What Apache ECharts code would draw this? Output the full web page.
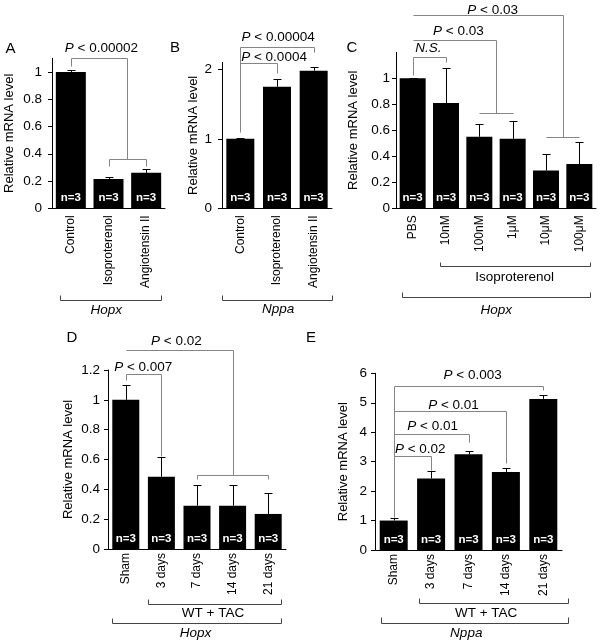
<!DOCTYPE html>
<html><head><meta charset="utf-8">
<script src="https://cdn.jsdelivr.net/npm/echarts@6/dist/echarts.min.js"></script>
<style>html,body{margin:0;padding:0;background:#fff}#c{width:602px;height:644px}</style>
</head><body><div id="c"></div>
<script>
// ---------- Panel A (Hopx) ----------
const catsA = ['Control', 'Isoproterenol', 'Angiotensin II'];
const valA = [1.0, 0.215, 0.26];
const errA = [0.012, 0.018, 0.025];
const nA = [3, 3, 3];
const ticksA = [0, 0.2, 0.4, 0.6, 0.8, 1];
// ---------- Panel B (Nppa) ----------
const catsB = ['Control', 'Isoproterenol', 'Angiotensin II'];
const valB = [1.0, 1.75, 1.98];
const errB = [0.015, 0.11, 0.05];
const nB = [3, 3, 3];
const ticksB = [0, 1, 2];
// ---------- Panel C (Hopx, isoproterenol dose) ----------
const catsC = ['PBS', '10nM', '100nM', '1μM', '10μM', '100μM'];
const valC = [1.0, 0.81, 0.55, 0.535, 0.29, 0.34];
const errC = [0.005, 0.27, 0.10, 0.135, 0.13, 0.17];
const nC = [3, 3, 3, 3, 3, 3];
const ticksC = [0, 0.2, 0.4, 0.6, 0.8, 1];
// ---------- Panel D (Hopx, TAC) ----------
const catsD = ['Sham', '3 days', '7 days', '14 days', '21 days'];
const valD = [1.0, 0.485, 0.29, 0.29, 0.235];
const errD = [0.10, 0.13, 0.14, 0.14, 0.14];
const nD = [3, 3, 3, 3, 3];
const ticksD = [0, 0.2, 0.4, 0.6, 0.8, 1, 1.2];
// ---------- Panel E (Nppa, TAC) ----------
const catsE = ['Sham', '3 days', '7 days', '14 days', '21 days'];
const valE = [1.0, 2.43, 3.25, 2.65, 5.13];
const errE = [0.10, 0.24, 0.10, 0.12, 0.12];
const nE = [3, 3, 3, 3, 3];
const ticksE = [0, 1, 2, 3, 4, 5, 6];

// significance brackets: [xStart, xEnd, yLine, yLeftEnd, yRightEnd] (category units, data units)
const bracketsA = [[0, 1.5, 1.10, 1.045, 0.363], [1, 2, 0.363, 0.31, 0.31]];
const pLabelsA = [[0.81, 1.175, 'P < 0.00002']];
const bracketsB = [[0, 2, 2.32, 1.10, 2.25], [0, 1, 2.09, 2.09, 1.95]];
const pLabelsB = [[1.03, 2.465, 'P < 0.00004'], [0.92, 2.18, 'P < 0.0004']];
const bracketsC = [[0, 1, 1.164, 1.025, 1.125], [0, 2.5, 1.295, 1.295, 0.733], [2, 3, 0.733, 0.733, 0.733],
                   [0, 4.5, 1.487, 1.487, 0.549], [4, 5, 0.549, 0.549, 0.549]];
const pLabelsC = [[0.47, 1.235, 'N.S.'], [1.37, 1.364, 'P < 0.03'], [2.4, 1.525, 'P < 0.03']];
const bracketsD = [[0, 1, 1.173, 1.133, 0.625], [0, 3, 1.334, 1.334, 0.496], [2, 4, 0.496, 0.47, 0.47]];
const pLabelsD = [[0.49, 1.22, 'P < 0.007'], [1.42, 1.39, 'P < 0.02']];
const bracketsE = [[0, 4, 5.57, 1.12, 5.43], [0, 3, 4.72, 4.72, 2.945], [0, 2, 3.94, 3.94, 3.67], [0, 1, 3.20, 3.20, 2.72]];
const pLabelsE = [[2.11, 5.94, 'P < 0.003'], [1.60, 4.93, 'P < 0.01'], [1.04, 4.19, 'P < 0.01'], [0.71, 3.43, 'P < 0.02']];

// group brackets under the axis: [xStart, xEnd, yLine, yLegEnd, labelX, labelY, label, italic]
const groupsA = [[-0.3, 2.4, -0.672, -0.635, 0.94, -0.745, 'Hopx', true]];
const groupsB = [[-0.49, 2.51, -1.32, -1.25, 1.03, -1.46, 'Nppa', true]];
const groupsC = [[0.83, 5.33, -0.44, -0.413, 3.06, -0.53, 'Isoproterenol', false],
                 [-0.33, 5.33, -0.68, -0.644, 2.51, -0.782, 'Hopx', true]];
const groupsD = [[0.63, 4.37, -0.369, -0.335, 2.45, -0.429, 'WT + TAC', false],
                 [-0.4, 4.37, -0.498, -0.462, 1.96, -0.563, 'Hopx', true]];
const groupsE = [[0.67, 4.65, -1.81, -1.63, 2.47, -2.14, 'WT + TAC', false],
                 [-0.33, 4.65, -2.47, -2.28, 1.94, -2.81, 'Nppa', true]];

const FONT = 'Arial, "Liberation Sans", Helvetica, sans-serif';
const GRAY = '#858585';
const DARK = '#444';

const panels = [
  {cats: catsA, val: valA, err: errA, n: nA, ticks: ticksA, max: 1.1, br: bracketsA, pl: pLabelsA, gr: groupsA,
   grid: {left: 52, top: 58.3, width: 113, height: 150}, barWidth: 30, labMargin: 10, nameGap: 36, xMargin: 7},
  {cats: catsB, val: valB, err: errB, n: nB, ticks: ticksB, max: 2.1, br: bracketsB, pl: pLabelsB, gr: groupsB,
   grid: {left: 222, top: 62.4, width: 110, height: 145.9}, barWidth: 28, labMargin: 10, nameGap: 22, xMargin: 7},
  {cats: catsC, val: valC, err: errC, n: nC, ticks: ticksC, max: 1.2, br: bracketsC, pl: pLabelsC, gr: groupsC,
   grid: {left: 396, top: 52.3, width: 200, height: 156}, barWidth: 26, labMargin: 6, nameGap: 36, xMargin: 7},
  {cats: catsD, val: valD, err: errD, n: nD, ticks: ticksD, max: 1.2, br: bracketsD, pl: pLabelsD, gr: groupsD,
   grid: {left: 108, top: 370, width: 178, height: 179}, barWidth: 27, labMargin: 8, nameGap: 33, xMargin: 4},
  {cats: catsE, val: valE, err: errE, n: nE, ticks: ticksE, max: 6, br: bracketsE, pl: pLabelsE, gr: groupsE,
   grid: {left: 375, top: 373.3, width: 187, height: 176.7}, barWidth: 28, labMargin: 8, nameGap: 25, xMargin: 4}
];

function pText(t) {
  if (t.indexOf('P ') === 0) return '{i|P}{r|' + t.slice(1) + '}';
  return '{i|' + t + '}';
}

const grids = [], xAxes = [], yAxes = [], series = [];
panels.forEach((p, gi) => {
  grids.push(Object.assign({containLabel: false}, p.grid));
  xAxes.push({
    type: 'category', gridIndex: gi, data: p.cats,
    axisTick: {show: false},
    axisLine: {lineStyle: {color: '#000', width: 1}},
    axisLabel: {rotate: 90, interval: 0, fontSize: 12, color: '#000', margin: p.xMargin, fontFamily: FONT}
  });
  yAxes.push({
    type: 'value', gridIndex: gi, min: 0, max: p.max,
    axisLine: {show: true, lineStyle: {color: '#000', width: 1}},
    axisTick: {show: true, length: 4, customValues: p.ticks, lineStyle: {color: '#000'}},
    axisLabel: {customValues: p.ticks, fontSize: 13.5, color: '#000', margin: p.labMargin, fontFamily: FONT},
    splitLine: {show: false},
    name: 'Relative mRNA level', nameLocation: 'middle', nameGap: p.nameGap,
    nameTextStyle: {fontSize: 13, color: '#000', fontFamily: FONT}
  });
  series.push({
    type: 'bar', xAxisIndex: gi, yAxisIndex: gi, data: p.val, barWidth: p.barWidth,
    itemStyle: {color: '#000'}, silent: true,
    label: {show: true, position: 'insideBottom', distance: 4, color: '#fff', fontWeight: 'bold',
            fontSize: 11.5, fontFamily: FONT, formatter: (q) => 'n=' + p.n[q.dataIndex]}
  });
  series.push({
    type: 'custom', xAxisIndex: gi, yAxisIndex: gi, silent: true, clip: false, z: 3,
    data: p.val.map((v, i) => [i, v, p.err[i]]),
    renderItem: (params, api) => {
      const x = api.value(0), v = api.value(1), e = api.value(2);
      const a = api.coord([x, v]), b = api.coord([x, v + e]);
      const xs = Math.round(a[0]) + 0.5, yb = Math.round(b[1]) + 0.5;
      return {type: 'group', children: [
        {type: 'line', shape: {x1: xs, y1: a[1], x2: xs, y2: yb}, style: {stroke: '#000', lineWidth: 1}},
        {type: 'line', shape: {x1: xs - 4, y1: yb, x2: xs + 4, y2: yb}, style: {stroke: '#000', lineWidth: 1}}
      ]};
    }
  });
  series.push({
    type: 'custom', xAxisIndex: gi, yAxisIndex: gi, silent: true, clip: false, z: 4,
    data: [[0, 0]],
    renderItem: (params, api) => {
      const c0 = api.coord([0, 0]);
      const bw = api.size([1, 0])[0];
      const X = (x) => Math.round(c0[0] + x * bw) + 0.5;
      const Y = (y) => Math.round(api.coord([0, y])[1]) + 0.5;
      const ch = [];
      p.br.forEach((b) => {
        ch.push({type: 'polyline', shape: {points: [[X(b[0]), Y(b[3])], [X(b[0]), Y(b[2])], [X(b[1]), Y(b[2])], [X(b[1]), Y(b[4])]]},
                 style: {stroke: GRAY, lineWidth: 1, fill: null}});
      });
      p.pl.forEach((l) => {
        ch.push({type: 'text', x: c0[0] + l[0] * bw, y: api.coord([0, l[1]])[1],
                 style: {text: pText(l[2]), align: 'center', verticalAlign: 'middle', fill: '#000',
                         fontSize: 13.5, fontFamily: FONT,
                         rich: {i: {fontStyle: 'italic', fontSize: 13.5, fontFamily: FONT, fill: '#000'},
                                r: {fontSize: 13.5, fontFamily: FONT, fill: '#000'}}}});
      });
      p.gr.forEach((g) => {
        ch.push({type: 'polyline', shape: {points: [[X(g[0]), Y(g[3])], [X(g[0]), Y(g[2])], [X(g[1]), Y(g[2])], [X(g[1]), Y(g[3])]]},
                 style: {stroke: DARK, lineWidth: 1, fill: null}});
        ch.push({type: 'text', x: c0[0] + g[4] * bw, y: api.coord([0, g[5]])[1],
                 style: {text: g[6], align: 'center', verticalAlign: 'middle', fill: '#000', fontSize: 13.5,
                         fontFamily: FONT, fontStyle: g[7] ? 'italic' : 'normal'}});
      });
      return {type: 'group', children: ch};
    }
  });
});

const letters = [['A', 10.5, 49], ['B', 175, 48], ['C', 352, 48], ['D', 72, 337.5], ['E', 311, 337.5]];

const chart = echarts.init(document.getElementById('c'), null, {renderer: 'canvas'});
chart.setOption({
  animation: false,
  backgroundColor: '#fff',
  textStyle: {fontFamily: FONT},
  grid: grids, xAxis: xAxes, yAxis: yAxes, series: series,
  graphic: letters.map((l) => ({type: 'text', x: l[1], y: l[2],
    style: {text: l[0], fontSize: 15, fontFamily: FONT, fill: '#000', align: 'center', verticalAlign: 'middle'}}))
});
</script>
</body></html>
